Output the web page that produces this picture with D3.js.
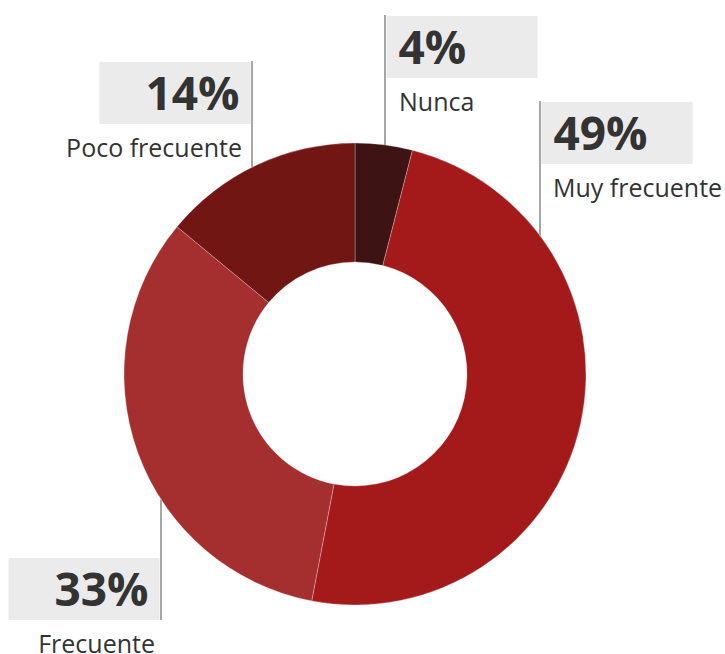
<!DOCTYPE html>
<html>
<head>
<meta charset="utf-8">
<script src="https://cdn.jsdelivr.net/npm/d3@7"></script>
<style>
  html, body { margin: 0; padding: 0; background: #fff; }
  svg { display: block; }
</style>
</head>
<body>
<svg id="chart" width="725" height="654"></svg>
<script>
// Frequency categories and their shares (percent)
const categories = ["Nunca", "Muy frecuente", "Frecuente", "Poco frecuente"];
const values = [4, 49, 33, 14];
const colors = ["#3e1313", "#a41a1a", "#a52f2f", "#721613"];

// Label placement: leader x, box top, side of the leader the box sits on,
// and the gap between the leader and the category name
const labelX    = [385, 540, 161, 252];
const labelTop  = [16, 102, 558, 62];
const labelSide = ["right", "right", "left", "left"];
const nameGap   = [14, 13, 6, 10];

const width = 725, height = 654;
const cx = 355, cy = 374;
const outerR = 231, innerR = 112;

const svg = d3.select("#chart");
const fontFamily = "'Open Sans', 'Noto Sans', sans-serif";

const pie = d3.pie().sort(null).value(d => d.value);
const arc = d3.arc().innerRadius(innerR).outerRadius(outerR);

const data = categories.map((c, i) => ({ name: c, value: values[i], color: colors[i], i }));
const arcs = pie(data);

const g = svg.append("g").attr("transform", `translate(${cx},${cy})`);
g.selectAll("path.slice")
  .data(arcs)
  .join("path")
  .attr("class", "slice")
  .attr("d", arc)
  .attr("fill", d => d.data.color)
  .attr("stroke", "rgba(255,255,255,0.35)")
  .attr("stroke-width", 0.8);

// Labels with leader lines and shaded value boxes
const boxW = 151, boxH = 62;
const pct = d3.format(".0%");
const total = d3.sum(values);

arcs.forEach((a, i) => {
  const lx = labelX[i];
  const top = labelTop[i];
  const dx = lx - cx;
  const dy = Math.sqrt(outerR * outerR - dx * dx);
  const below = top > cy;
  const edgeY = below ? cy + dy : cy - dy;
  const boxBottom = top + boxH;

  const lineTop = below ? edgeY : top - 1;
  const lineBottom = below ? boxBottom : edgeY;

  const right = labelSide[i] === "right";
  const boxX = right ? lx + 1.5 : lx - 1.5 - boxW;

  svg.append("rect")
    .attr("x", boxX).attr("y", top)
    .attr("width", boxW).attr("height", boxH)
    .attr("fill", "#ebebeb");

  svg.append("line")
    .attr("x1", lx).attr("x2", lx)
    .attr("y1", lineTop).attr("y2", lineBottom)
    .attr("stroke", "#a6a6a6")
    .attr("stroke-width", 2);

  const textX = right ? boxX + 12 : boxX + boxW - 11;
  const anchor = right ? "start" : "end";

  svg.append("text")
    .attr("x", textX).attr("y", top + 48)
    .attr("text-anchor", anchor)
    .attr("font-family", fontFamily)
    .attr("font-weight", 700)
    .attr("font-size", 46)
    .attr("fill", "#333333")
    .text(pct(values[i] / total));

  svg.append("text")
    .attr("x", right ? lx + nameGap[i] : lx - nameGap[i]).attr("y", boxBottom + 33)
    .attr("text-anchor", anchor)
    .attr("font-family", fontFamily)
    .attr("font-size", 25)
    .attr("fill", "#333333")
    .text(categories[i]);
});
</script>
</body>
</html>
